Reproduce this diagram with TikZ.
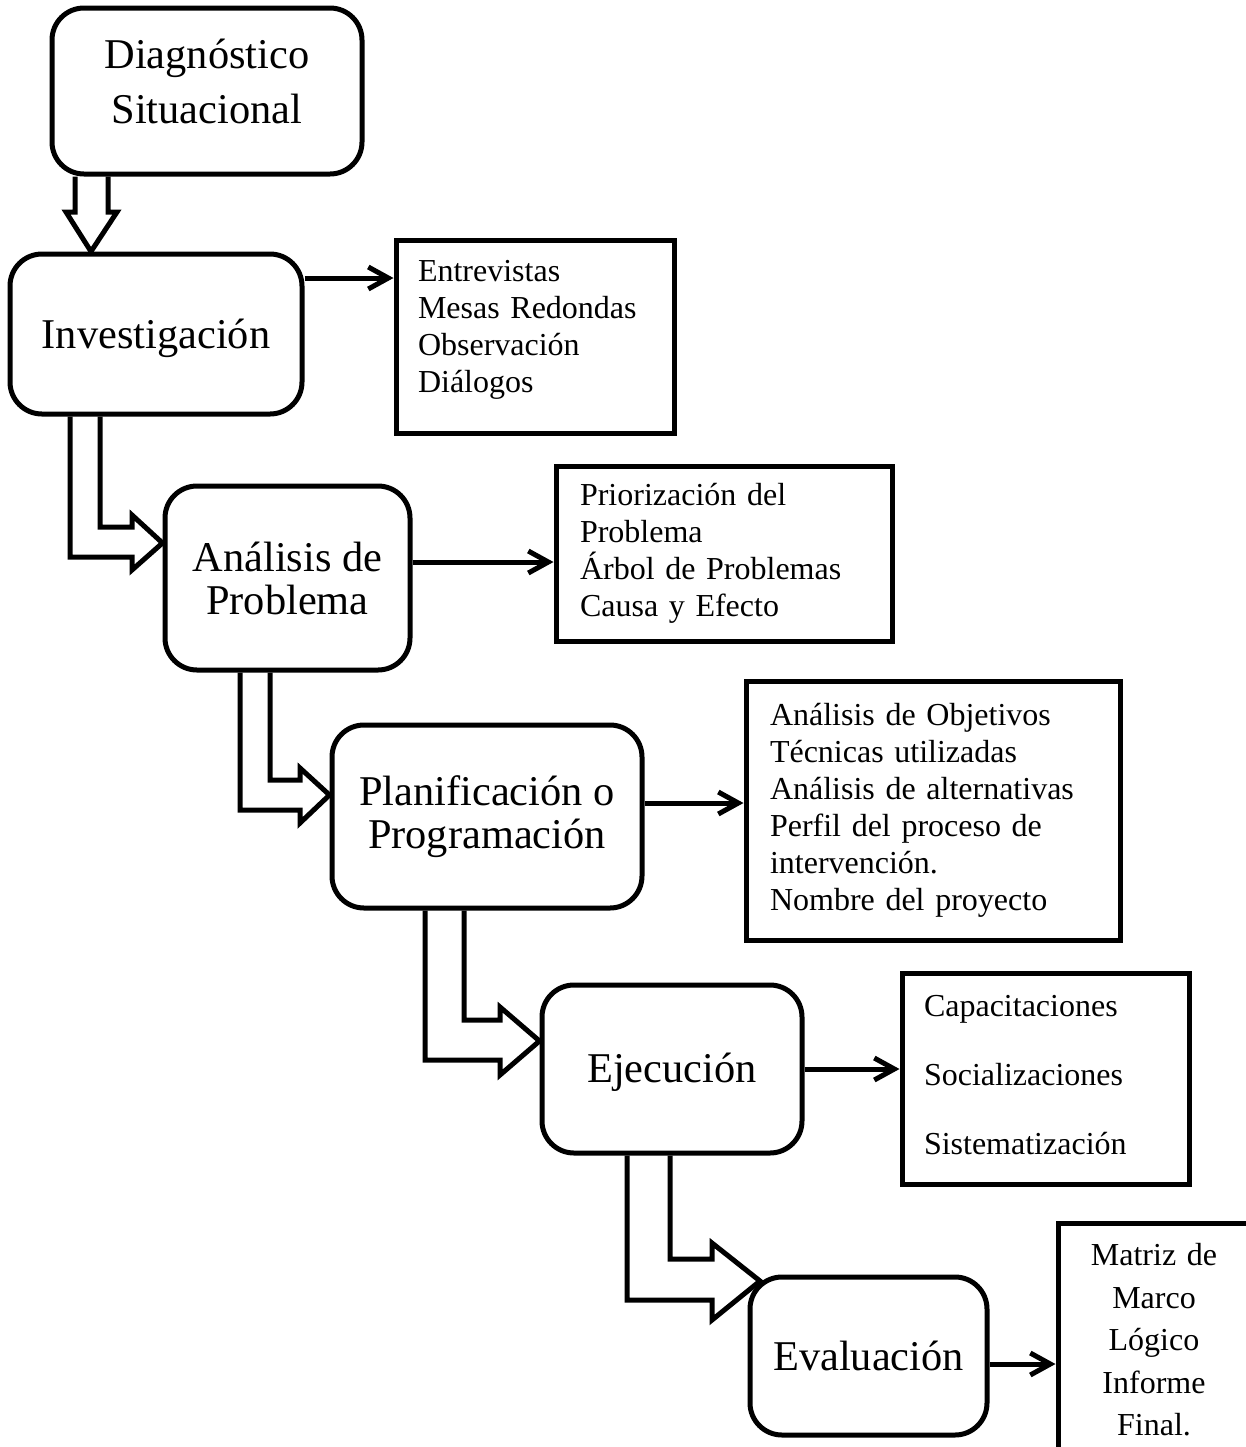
\documentclass[tikz,border=0pt]{standalone}
\usepackage{fontspec}
\setmainfont{Liberation Serif}
\usetikzlibrary{arrows.meta}
\begin{document}
\begin{tikzpicture}[x=0.5pt,y=-0.5pt,
  stage/.style={draw, line width=2.5pt, rounded corners=16pt, align=center,
    inner sep=0pt, font=\fontsize{21.2pt}{21.5pt}\selectfont},
  listbox/.style={draw, line width=2.5pt, align=left, inner ysep=0pt,
    font=\fontsize{16pt}{18.5pt}\selectfont},
  link/.style={line width=2.5pt, -{Straight Barb[length=10pt,width=11pt]}},
  hollow/.style={draw, line width=2.5pt, line join=miter}]
\useasboundingbox (0,0) rectangle (1246,1447);
\clip (0,0) rectangle (1246,1447);

% process stages
\node[stage, minimum width=155pt, minimum height=83pt, text depth=9.5pt,
  font=\fontsize{21.2pt}{27.5pt}\selectfont] (diag) at (207,91)
  {Diagnóstico\\Situacional};
\node[stage, minimum width=146pt, minimum height=80pt, text depth=0pt] (inv) at (156,334) {Investigación};
\node[stage, minimum width=122.5pt, minimum height=92pt] (ana) at (287.5,578) {Análisis de\\Problema};
\node[stage, minimum width=155pt, minimum height=91.5pt] (plan) at (487,816.5) {Planificación o\\Programación};
\node[stage, minimum width=130pt, minimum height=84pt, text depth=1.5pt] (eje) at (672,1069) {Ejecución};
\node[stage, minimum width=118.5pt, minimum height=79pt] (eva) at (868.5,1356) {Evaluación};

% activity lists
\node[listbox, text width=117pt, inner xsep=11pt, minimum height=96.5pt, text depth=66pt] (entrev) at (535,336.5)
  {Entrevistas\\Mesas Redondas\\Observación\\Diálogos};
\node[listbox, text width=144pt, inner xsep=12pt, minimum height=87.5pt] (prio) at (724,553.5)
  {Priorización del\\Problema\\Árbol de Problemas\\Causa y Efecto};
\node[listbox, text width=163pt, inner xsep=12pt, minimum height=129.5pt] (obj) at (933,810.5)
  {Análisis de Objetivos\\Técnicas utilizadas\\Análisis de alternativas\\Perfil del proceso de\\intervención.\\Nombre del proyecto};
\node[listbox, text width=121.5pt, inner xsep=11pt, minimum height=105.5pt, text depth=73pt] (cap) at (1045.5,1078.5)
  {Capacitaciones\\[16pt]Socializaciones\\[16pt]Sistematización};
\node[listbox, align=center, text width=90pt, inner xsep=3pt, minimum height=123.5pt, text depth=92pt,
  font=\fontsize{16pt}{21.25pt}\selectfont] (mat) at (1154,1346.5)
  {Matriz de\\Marco\\Lógico\\Informe\\Final.};

% hollow block arrows between stages
\draw[hollow] (75,0 |- diag.south) -- (75,212) -- (66,212) -- (91,0 |- inv.north)
  -- (117,212) -- (108,212) -- (108,0 |- diag.south);
\draw[hollow] (70,0 |- inv.south) -- (70,557) -- (132,557) -- (132,570)
  -- (ana.west |- 0,543) -- (132,515) -- (132,527) -- (100,527) -- (100,0 |- inv.south);
\draw[hollow] (240,0 |- ana.south) -- (240,810) -- (300,810) -- (300,823)
  -- (plan.west |- 0,795) -- (300,768) -- (300,780) -- (270,780) -- (270,0 |- ana.south);
\draw[hollow] (425,0 |- plan.south) -- (425,1060) -- (500,1060) -- (500,1075)
  -- (eje.west |- 0,1041) -- (500,1007) -- (500,1020) -- (464,1020) -- (464,0 |- plan.south);
\draw[hollow] (627,0 |- eje.south) -- (627,1300) -- (712,1300) -- (712,1320)
  -- (760,1281) -- (712,1243) -- (712,1259) -- (670,1259) -- (670,0 |- eje.south);

% links from stages to their activities
\draw[link] (inv.east |- 0,278) -- (entrev.west |- 0,278);
\draw[link] (ana.east |- 0,562) -- (prio.west |- 0,562);
\draw[link] (plan.east |- 0,803) -- (obj.west |- 0,803);
\draw[link] (eje.east |- 0,1069) -- (cap.west |- 0,1069);
\draw[link] (eva.east |- 0,1364) -- (mat.west |- 0,1364);
\end{tikzpicture}
\end{document}
